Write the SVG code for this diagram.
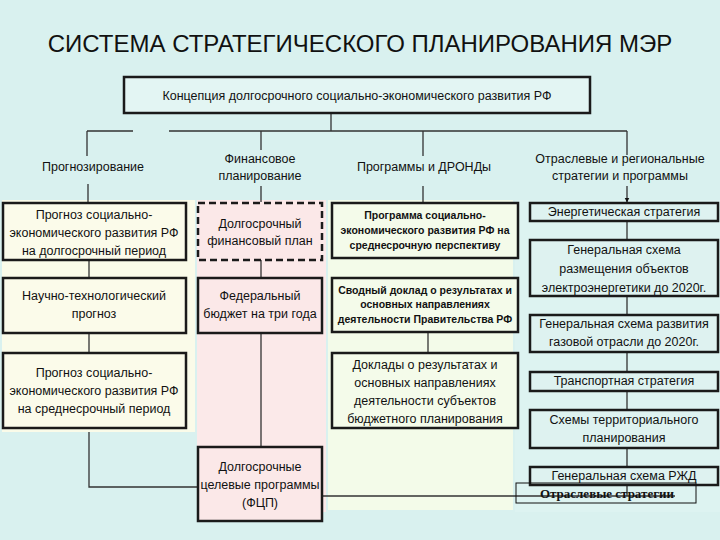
<svg xmlns="http://www.w3.org/2000/svg" width="720" height="540" viewBox="0 0 720 540">
<defs>
<style>
.t{font-family:"Liberation Sans",Arial,sans-serif;font-size:12.5px;fill:#111;text-anchor:middle}
.b{font-family:"Liberation Sans",Arial,sans-serif;font-size:10.5px;font-weight:bold;fill:#111;text-anchor:middle}
.box{stroke:#1a1a1a;stroke-width:2.5}
.c1{fill:#fbfbea}.c2{fill:#fbe8e8}.c3{fill:#f4fbea}.c4{fill:#def2f0}
.ln{stroke:#333;stroke-width:1.3;fill:none}
</style>
<marker id="ar" viewBox="0 0 10 10" refX="9" refY="5" markerWidth="5" markerHeight="6" orient="auto" markerUnits="userSpaceOnUse">
<path d="M0,0 L10,5 L0,10 z" fill="#111"/>
</marker>
</defs>
<rect width="720" height="540" fill="#d9f1ef"/>
<g id="panels">
<rect x="2" y="200" width="193" height="232" fill="#fafbe9"/>
<rect x="197" y="200" width="129" height="312" fill="#fbe9e9"/>
<rect x="328" y="200" width="185" height="310" fill="#f3fbe9"/>
<rect x="515" y="200" width="205" height="312" fill="#ddf3f1"/>
</g>
<text id="title" x="360" y="52" style="font-family:'Liberation Sans',Arial,sans-serif;font-size:24px;fill:#111;text-anchor:middle">СИСТЕМА СТРАТЕГИЧЕСКОГО ПЛАНИРОВАНИЯ МЭР</text>
<g id="connectors">
<path class="ln" d="M331,113 V131 M87,131 H133 M169,131 H627 M87,131 V156 M261,131 V150 M423,131 V156 M627,131 V155"/>
<path class="ln" d="M88,184 V202 M261,186 V202 M423,186 V202 M627,186 V202" marker-end="url(#ar)"/>
<path class="ln" d="M89,260 V278 M89,333 V352 M89,432 V487 H198"/>
<path class="ln" d="M261,260 V278 M261,333 V447"/>
<path class="ln" d="M428,332 V353"/>
<path class="ln" d="M627,221 V240 M627,296 V314 M627,352 V371 M627,391 V410 M627,448 V467 M627,485 V496"/>
<path class="ln" d="M322,496 H675"/>
</g>
<g id="n-top"><rect class="box" x="124" y="77" width="466" height="36" fill="#e3f5f3"/><text class="t" x="357" y="100" style="font-size:12.5px">Концепция долгосрочного социально-экономического развития РФ</text></g>
<g id="h1"><text class="t" x="93" y="171">Прогнозирование</text></g>
<g id="h2"><text class="t" x="260" y="163">Финансовое</text><text class="t" x="260" y="180">планирование</text></g>
<g id="h3"><text class="t" x="424" y="171">Программы и ДРОНДы</text></g>
<g id="h4"><text class="t" x="620" y="163">Отраслевые и региональные</text><text class="t" x="620" y="180">стратегии и программы</text></g>

<g id="n1a"><rect class="box c1" x="3" y="203" width="183" height="57"/><text class="t" x="94" y="219">Прогноз социально-</text><text class="t" x="94" y="237">экономического развития РФ</text><text class="t" x="94" y="255">на долгосрочный период</text></g>
<g id="n1b"><rect class="box c1" x="3" y="278" width="183" height="55"/><text class="t" x="94" y="300">Научно-технологический</text><text class="t" x="94" y="318">прогноз</text></g>
<g id="n1c"><rect class="box c1" x="3" y="353" width="183" height="75"/><text class="t" x="94" y="377">Прогноз социально-</text><text class="t" x="94" y="395">экономического развития РФ</text><text class="t" x="94" y="413">на среднесрочный период</text></g>

<g id="n2a"><rect class="c2" x="198" y="203" width="124" height="57" stroke="#1a1a1a" stroke-width="2.5" stroke-dasharray="7,4"/><text class="t" x="260" y="228">Долгосрочный</text><text class="t" x="260" y="245">финансовый план</text></g>
<g id="n2b"><rect class="box c2" x="198" y="278" width="124" height="55"/><text class="t" x="260" y="300">Федеральный</text><text class="t" x="260" y="318">бюджет на три года</text></g>
<g id="n2c"><rect class="box c2" x="198" y="447" width="124" height="74"/><text class="t" x="260" y="471">Долгосрочные</text><text class="t" x="260" y="489">целевые программы</text><text class="t" x="260" y="507">(ФЦП)</text></g>

<g id="n3a"><rect class="box c3" x="332" y="203" width="186" height="55"/><text class="b" x="425" y="219">Программа социально-</text><text class="b" x="425" y="234">экономического развития РФ на</text><text class="b" x="425" y="249">среднесрочную перспективу</text></g>
<g id="n3b"><rect class="box c3" x="332" y="278" width="186" height="54"/><text class="b" x="425" y="294">Сводный доклад о результатах и</text><text class="b" x="425" y="308">основных направлениях</text><text class="b" x="425" y="323">деятельности Правительства РФ</text></g>
<g id="n3c"><rect class="box c3" x="332" y="353" width="186" height="75"/><text class="t" x="425" y="369">Доклады о результатах и</text><text class="t" x="425" y="387">основных направлениях</text><text class="t" x="425" y="405">деятельности субъектов</text><text class="t" x="425" y="423">бюджетного планирования</text></g>

<g id="n4a"><rect class="box c4" x="530" y="203" width="188" height="18"/><text class="t" x="624" y="216">Энергетическая стратегия</text></g>
<g id="n4b"><rect class="box c4" x="530" y="240" width="188" height="56"/><text class="t" x="624" y="254">Генеральная схема</text><text class="t" x="624" y="273">размещения объектов</text><text class="t" x="624" y="292">электроэнергетики до 2020г.</text></g>
<g id="n4c"><rect class="box c4" x="530" y="315" width="188" height="37"/><text class="t" x="624" y="328">Генеральная схема развития</text><text class="t" x="624" y="346">газовой отрасли до 2020г.</text></g>
<g id="n4d"><rect class="box c4" x="530" y="372" width="188" height="19"/><text class="t" x="624" y="385">Транспортная стратегия</text></g>
<g id="n4e"><rect class="box c4" x="530" y="410" width="188" height="38"/><text class="t" x="624" y="424">Схемы территориального</text><text class="t" x="624" y="442">планирования</text></g>
<g id="n4f"><rect class="box c4" x="530" y="467" width="188" height="18"/><text class="t" x="624" y="480">Генеральная схема РЖД</text></g>
<g id="n-otr"><rect x="516" y="483" width="180" height="20" fill="none" stroke="#111" stroke-width="1"/><text x="607" y="498" style="font-family:'Liberation Serif','Times New Roman',serif;font-size:13px;font-weight:bold;fill:#111;text-anchor:middle">Отраслевые стратегии</text></g>
</svg>
